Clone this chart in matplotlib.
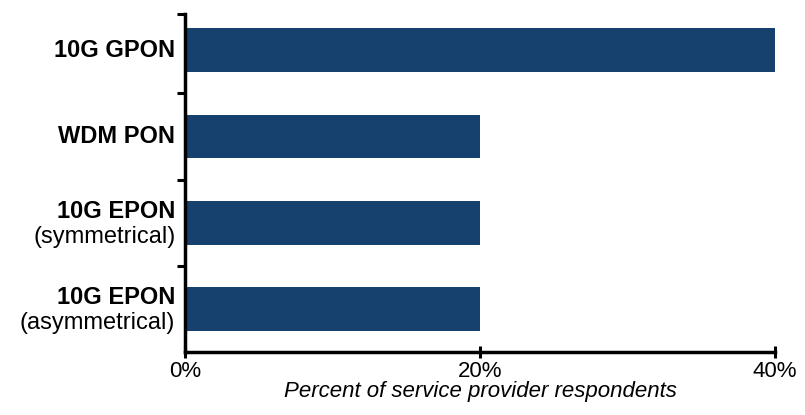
import matplotlib
matplotlib.use("Agg")
from matplotlib import pyplot as plt
from matplotlib.transforms import blended_transform_factory

# data, top to bottom
categories = ["10G GPON", "WDM PON", "10G EPON", "10G EPON"]
subtitles = ["", "", "(symmetrical)", "(asymmetrical)"]
percent = [40, 20, 20, 20]
x_ticks = [0, 20, 40]
x_tick_labels = ["0%", "20%", "40%"]

plt.rcParams["font.family"] = ["Liberation Sans", "DejaVu Sans"]

fig = plt.figure(figsize=(8.05, 4.15), dpi=100)
ax = fig.add_axes([0.2298, 0.152, 0.733, 0.814])

pos = list(range(len(categories)))
ax.barh(pos, percent, height=0.51, color="#16416f")

y_top = -0.42
ax.set_xlim(0, 40)
ax.set_ylim(len(categories) - 0.5, y_top)

# ticks on the y axis sit between categories, labels drawn by hand
ax.set_yticks([y_top] + [p + 0.5 for p in pos[:-1]])
ax.set_yticklabels([])
ax.tick_params(axis="y", length=6, width=2.2, direction="out")

trans = blended_transform_factory(ax.transAxes, ax.transData)
for p, name, sub in zip(pos, categories, subtitles):
    if sub:
        ax.annotate(name, xy=(0, p), xycoords=trans, xytext=(-7, 8),
                    textcoords="offset points", ha="right", va="center",
                    fontsize=17, fontweight="bold")
        ax.annotate(sub, xy=(0, p), xycoords=trans, xytext=(-7, -10),
                    textcoords="offset points", ha="right", va="center",
                    fontsize=17)
    else:
        ax.annotate(name, xy=(0, p), xycoords=trans, xytext=(-7, 0),
                    textcoords="offset points", ha="right", va="center",
                    fontsize=17, fontweight="bold")

ax.set_xticks(x_ticks)
ax.set_xticklabels(x_tick_labels, fontsize=16)
ax.tick_params(axis="x", length=8, width=2.2, direction="inout", pad=2.5)

ax.set_xlabel("Percent of service provider respondents", fontsize=16,
              fontstyle="italic", labelpad=-1)

for side in ("top", "right"):
    ax.spines[side].set_visible(False)
for side in ("left", "bottom"):
    ax.spines[side].set_linewidth(2.5)

fig.savefig("out.png", dpi=100)
